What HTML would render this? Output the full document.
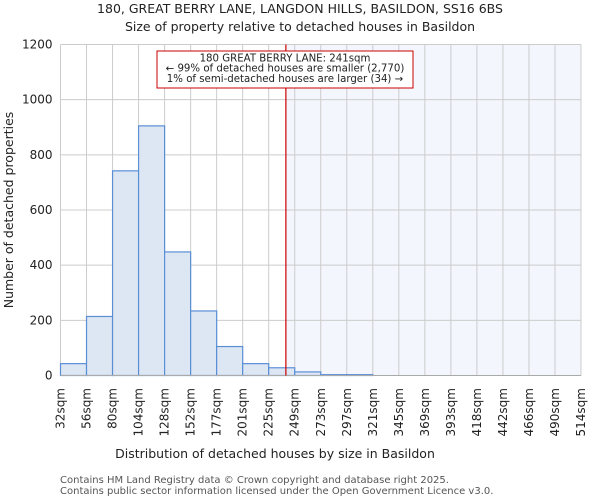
<!DOCTYPE html>
<html><head><meta charset="utf-8"><style>
body{margin:0;background:#fff;font-family:"DejaVu Sans","Liberation Sans",sans-serif;}
svg text{font-family:"DejaVu Sans","Liberation Sans",sans-serif;fill:#222;}
</style></head><body>
<svg id="chart" width="600" height="500" xmlns="http://www.w3.org/2000/svg">
<text x="300" y="13" text-anchor="middle" font-size="12.5">180, GREAT BERRY LANE, LANGDON HILLS, BASILDON, SS16 6BS</text>
<text x="300" y="31" text-anchor="middle" font-size="12.5">Size of property relative to detached houses in Basildon</text>
<g id="grid"></g><g id="bars"></g><g id="axes"></g>
<text x="275" y="458" text-anchor="middle" font-size="12.5">Distribution of detached houses by size in Basildon</text>
<text transform="translate(13,210) rotate(-90)" text-anchor="middle" font-size="12.5">Number of detached properties</text>
<text x="60" y="483" font-size="10" style="fill:#555">Contains HM Land Registry data © Crown copyright and database right 2025.</text>
<text x="60" y="494" font-size="10" style="fill:#555">Contains public sector information licensed under the Open Government Licence v3.0.</text>
</svg>
<script>
const binLabels=["32sqm","56sqm","80sqm","104sqm","128sqm","152sqm","177sqm","201sqm","225sqm","249sqm","273sqm","297sqm","321sqm","345sqm","369sqm","393sqm","418sqm","442sqm","466sqm","490sqm","514sqm"];
const counts=[43,214,742,905,448,234,105,43,28,13,3,3,0,0,0,0,0,0,0,0];
const yTicks=[0,200,400,600,800,1000,1200];
const propertyBin=8.66;
const NS="http://www.w3.org/2000/svg";
const L=60.5,R=581,T=44.5,B=375.5,yMax=1200;
const nb=counts.length,bw=(R-L)/nb;
const xs=i=>L+i*bw, ys=v=>B-(v/yMax)*(B-T);
function mk(p,t,a){const e=document.createElementNS(NS,t);for(const k in a)e.setAttribute(k,a[k]);document.getElementById(p).appendChild(e);return e;}
const px=xs(propertyBin);
let sh=mk("grid","rect",{x:px,y:T,width:R-px,height:B-T,fill:"#f4f6fd"});


for(let i=0;i<=nb;i++){const g=mk("grid","line",{x1:xs(i),x2:xs(i),y1:T,y2:B,stroke:"#cccccc"});


const t=mk("axes","text",{transform:`translate(${xs(i)+4},388) rotate(-90)`,"text-anchor":"end","font-size":"12"});t.textContent=binLabels[i];

}
yTicks.forEach(v=>{const g=mk("grid","line",{x1:L,x2:R,y1:ys(v),y2:ys(v),stroke:"#cccccc"});


const t=mk("axes","text",{x:L-8,y:ys(v)+4,"text-anchor":"end","font-size":"12"});t.textContent=v;

});
counts.forEach((c,i)=>{if(c<=0)return;const r=mk("bars","rect",{x:xs(i),y:ys(c),width:bw,height:B-ys(c),fill:"#dde6f3",stroke:"#5a8fd6","stroke-width":"1.2"});

});
let ax=mk("axes","line",{x1:L,x2:R,y1:B,y2:B,stroke:"#aaa"});


let ln=mk("axes","line",{x1:px,x2:px,y1:T,y2:B,stroke:"#cc0000","stroke-width":"1.2"});


let box=mk("axes","rect",{x:157,y:51,width:256,height:37,fill:"#fff",stroke:"#cc0000"});


["180 GREAT BERRY LANE: 241sqm","← 99% of detached houses are smaller (2,770)","1% of semi-detached houses are larger (34) →"].forEach((s,i)=>{const t=mk("axes","text",{x:285,y:61.5+i*10.2,"text-anchor":"middle","font-size":"10.2"});t.textContent=s;

});
</script>
</body></html>
